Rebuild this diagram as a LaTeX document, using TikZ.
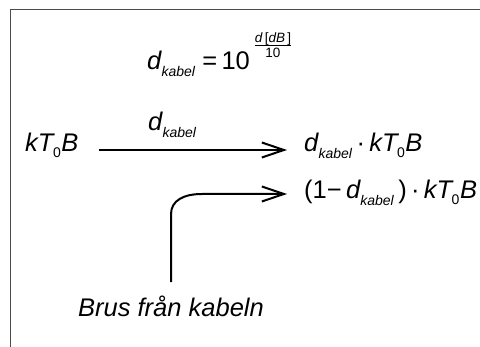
\documentclass[tikz,border=0pt]{standalone}
\usepackage{fontspec}
\setmainfont{Liberation Sans}
\usepackage{tikz}
\usetikzlibrary{arrows.meta,calc}

\newcommand{\dkab}{\textit{d}\kern-0.5pt\raisebox{-6.5pt}{\fontsize{14}{14}\selectfont\textit{kabel}}}
\newcommand{\kTB}{\textit{kT}\kern-2pt\raisebox{-5.5pt}{\fontsize{14}{14}\selectfont 0}\kern0.5pt\textit{B}}

\tikzset{
  lbl/.style={inner sep=0pt, anchor=base west, font=\fontsize{25.5}{30}\selectfont},
  small/.style={inner sep=0pt, anchor=base, font=\fontsize{13.5}{14}\selectfont},
  frame/.style={draw=black!70, line width=1.3pt},
  flow/.style={->, line width=2pt},
}

\begin{document}
\begin{tikzpicture}[x=1pt,y=-1pt,>={Straight Barb[length=22pt,width=15pt]}]
  \useasboundingbox (0,0) rectangle (480,347);
  \draw[frame] (10.5,347) -- (10.5,9.5) -- (480,9.5);
  % formula
  \node[lbl] (eq) at (147,70) {\dkab\ =\,10};
  \node[small] (num) at (273,43) {\textit{d}\,[\textit{dB}\,]};
  \node[small] (den) at (273,58) {10};
  \draw[line width=0.9pt] ($(num.base west)+(0,2.5)$) -- ($(num.base east)+(0,2.5)$);
  % signal path
  \node[lbl] (src) at (25,152) {\kTB};
  \node[lbl] (gain) at (148,131) {\dkab};
  \node[lbl] (out1) at (304,152) {\dkab\,·\,\kTB};
  \node[lbl] (out2) at (304,199) {(1−\,\dkab\,)\,·\,\kTB};
  \node[lbl, anchor=base] (brus) at (171,317) {\textit{Brus från kabeln}};
  \draw[flow] ($(src.base east)+(20,-2)$) -- ($(out1.base west)+(-17,-2)$);
  \coordinate (foot) at ($(brus.north)+(0,-14)$);
  \coordinate (tip2) at ($(out2.base west)+(-17,-5)$);
  \draw[flow] (foot) -- ++(0,-68) .. controls +(0,-14) and (184,194) .. (202,194) -- (tip2);
\end{tikzpicture}
\end{document}
